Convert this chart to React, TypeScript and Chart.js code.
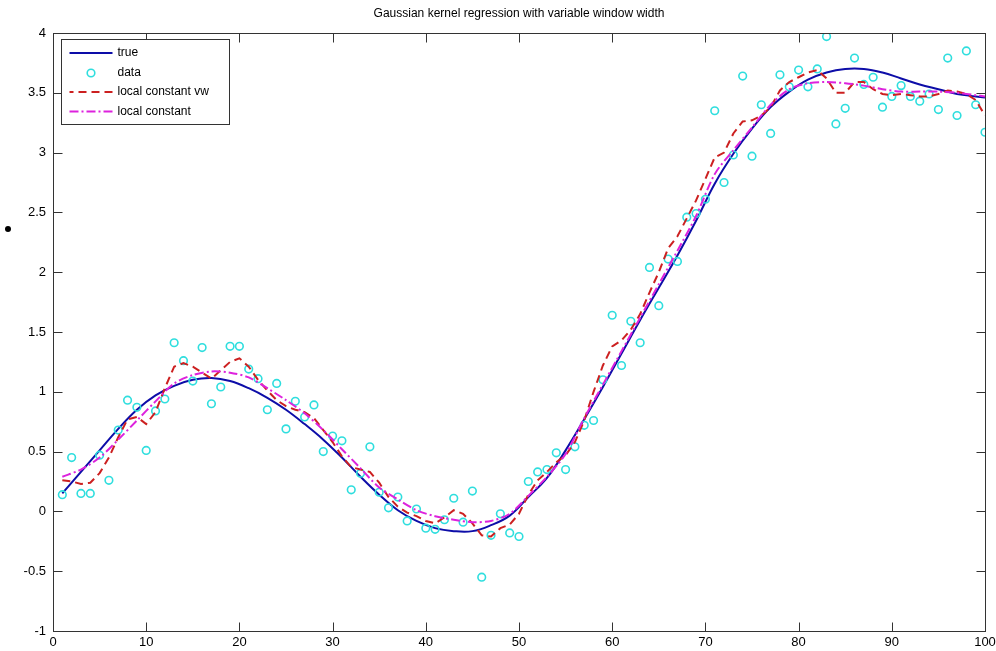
import React, { useEffect, useRef } from "react";
import { Chart, registerables } from "chart.js";

Chart.register(...registerables);

const titleText = "Gaussian kernel regression with variable window width";
const legendLabels = ["true", "data", "local constant vw", "local constant"];
const xTicks = [0, 10, 20, 30, 40, 50, 60, 70, 80, 90, 100];
const yTicks = [-1, -0.5, 0, 0.5, 1, 1.5, 2, 2.5, 3, 3.5, 4];

const dataX = [
  1, 2, 3, 4, 5, 6, 7, 8, 9, 10, 11, 12, 13, 14, 15, 16, 17, 18, 19, 20,
  21, 22, 23, 24, 25, 26, 27, 28, 29, 30, 31, 32, 33, 34, 35, 36, 37, 38, 39, 40,
  41, 42, 43, 44, 45, 46, 47, 48, 49, 50, 51, 52, 53, 54, 55, 56, 57, 58, 59, 60,
  61, 62, 63, 64, 65, 66, 67, 68, 69, 70, 71, 72, 73, 74, 75, 76, 77, 78, 79, 80,
  81, 82, 83, 84, 85, 86, 87, 88, 89, 90, 91, 92, 93, 94, 95, 96, 97, 98, 99, 100,
];
const dataY = [
  0.14, 0.45, 0.15, 0.15, 0.47, 0.26, 0.68, 0.93, 0.87, 0.51,
  0.84, 0.94, 1.41, 1.26, 1.09, 1.37, 0.9, 1.04, 1.38, 1.38,
  1.19, 1.11, 0.85, 1.07, 0.69, 0.92, 0.79, 0.89, 0.5, 0.63,
  0.59, 0.18, 0.32, 0.54, 0.16, 0.03, 0.12, -0.08, 0.02, -0.14,
  -0.15, -0.07, 0.11, -0.09, 0.17, -0.55, -0.2, -0.02, -0.18, -0.21,
  0.25, 0.33, 0.35, 0.49, 0.35, 0.54, 0.72, 0.76, 1.1, 1.64,
  1.22, 1.59, 1.41, 2.04, 1.72, 2.11, 2.09, 2.46, 2.49, 2.61,
  3.35, 2.75, 2.98, 3.64, 2.97, 3.4, 3.16, 3.65, 3.55, 3.69,
  3.55, 3.7, 3.97, 3.24, 3.37, 3.79, 3.57, 3.63, 3.38, 3.47,
  3.56, 3.47, 3.43, 3.49, 3.36, 3.79, 3.31, 3.85, 3.4, 3.17,
];

const smoothX = [
  1, 3, 5, 7, 9, 11, 13, 15, 17, 19, 21, 23, 25, 27, 29, 31, 33, 35, 37, 39,
  41, 43, 45, 47, 49, 51, 53, 55, 57, 59, 61, 63, 65, 67, 69, 71, 73, 75, 77, 79,
  81, 83, 85, 87, 89, 91, 93, 95, 97, 99, 100,
];
const trueY = [
  0.15, 0.33, 0.51, 0.69, 0.85, 0.97, 1.05, 1.1, 1.115, 1.09,
  1.03, 0.95, 0.85, 0.73, 0.6, 0.45, 0.29, 0.14, 0.01, -0.08,
  -0.14, -0.165, -0.165, -0.115, -0.035, 0.12, 0.28, 0.51, 0.77, 1.04,
  1.32, 1.6, 1.87, 2.14, 2.43, 2.74, 2.99, 3.2, 3.38, 3.51,
  3.61, 3.67, 3.7, 3.7, 3.67, 3.62, 3.57, 3.53, 3.49, 3.47, 3.46,
];
const localConstY = [
  0.29, 0.35, 0.45, 0.6, 0.76, 0.92, 1.07, 1.14, 1.17, 1.16,
  1.12, 1.03, 0.93, 0.82, 0.68, 0.52, 0.36, 0.2, 0.1, 0.01,
  -0.04, -0.07, -0.09, -0.08, -0.02, 0.13, 0.29, 0.48, 0.78, 1.06,
  1.34, 1.62, 1.9, 2.18, 2.47, 2.82, 3.02, 3.21, 3.4, 3.53,
  3.58, 3.59, 3.58, 3.56, 3.53, 3.51, 3.51, 3.51, 3.5, 3.48, 3.47,
];
const localConstVwY = [
  0.26, 0.25, 0.23, 0.24, 0.32, 0.45, 0.62, 0.77, 0.79, 0.73,
  0.83, 1.03, 1.21, 1.24, 1.21, 1.16, 1.11, 1.18, 1.25, 1.28,
  1.21, 1.1, 1.01, 0.93, 0.88, 0.85, 0.83, 0.78, 0.68, 0.58,
  0.46, 0.37, 0.35, 0.33, 0.24, 0.12, 0.04, -0.01, -0.04, -0.08,
  -0.1, -0.05, 0.01, -0.02, -0.1, -0.2, -0.21, -0.14, -0.11, -0.02,
  0.14, 0.26, 0.33, 0.41, 0.47, 0.58, 0.76, 1.0, 1.22, 1.38,
  1.43, 1.52, 1.65, 1.83, 2.0, 2.2, 2.3, 2.45, 2.6, 2.78,
  2.96, 3.0, 3.16, 3.26, 3.27, 3.31, 3.38, 3.52, 3.59, 3.63,
  3.67, 3.69, 3.62, 3.5, 3.5, 3.59, 3.59, 3.53, 3.49, 3.48,
  3.49, 3.48, 3.47, 3.47, 3.49, 3.52, 3.51, 3.49, 3.44, 3.31,
];

const COLORS = {
  true: "#0d0da8",
  data: "#2fdede",
  vw: "#cc2020",
  lc: "#dd22dd",
  axis: "#333333",
};
const DASH_VW = [8, 5];
const DASH_LC = [9, 3, 2, 3];
const FONT = "'Liberation Sans', Arial, sans-serif";

function pts(xs: number[], ys: number[]) {
  return xs.map((x, i) => ({ x, y: ys[i] }));
}

const matlabPlugin = {
  id: "matlabDecor",
  afterDraw(chart: any) {
    const { ctx, chartArea: a, scales } = chart;
    const xs = scales.x;
    const ys = scales.y;
    const L = Math.round(a.left) + 0.5;
    const R = Math.round(a.right) + 0.5;
    const T = Math.round(a.top) + 0.5;
    const B = Math.round(a.bottom) + 0.5;
    ctx.save();
    ctx.fillStyle = "#000";
    ctx.font = "12px " + FONT;
    ctx.textAlign = "center";
    ctx.textBaseline = "middle";
    ctx.fillText(titleText, (a.left + a.right) / 2, 14);
    ctx.strokeStyle = COLORS.axis;
    ctx.lineWidth = 1;
    ctx.setLineDash([]);
    ctx.strokeRect(L, T, R - L, B - T);
    const tl = 9;
    ctx.beginPath();
    xTicks.forEach((v) => {
      const px = Math.round(xs.getPixelForValue(v)) + 0.5;
      ctx.moveTo(px, B);
      ctx.lineTo(px, B - tl);
      ctx.moveTo(px, T);
      ctx.lineTo(px, T + tl);
    });
    yTicks.forEach((v) => {
      const py = Math.round(ys.getPixelForValue(v)) + 0.5;
      ctx.moveTo(L, py);
      ctx.lineTo(L + tl, py);
      ctx.moveTo(R, py);
      ctx.lineTo(R - tl, py);
    });
    ctx.stroke();
    const lx = Math.round(a.left) + 8.5;
    const ly = Math.round(a.top) + 6.5;
    const lw = 168;
    const lh = 85;
    ctx.fillStyle = "#fff";
    ctx.fillRect(lx, ly, lw, lh);
    ctx.strokeStyle = COLORS.axis;
    ctx.lineWidth = 1;
    ctx.strokeRect(lx, ly, lw, lh);
    const rowY = [ly + 13.5, ly + 33.5, ly + 52.5, ly + 72];
    const sx0 = lx + 8;
    const sx1 = lx + 51;
    const tx = lx + 56;
    ctx.lineWidth = 2;
    ctx.strokeStyle = COLORS.true;
    ctx.beginPath();
    ctx.moveTo(sx0, rowY[0]);
    ctx.lineTo(sx1, rowY[0]);
    ctx.stroke();
    ctx.lineWidth = 1.6;
    ctx.strokeStyle = COLORS.data;
    ctx.beginPath();
    ctx.arc((sx0 + sx1) / 2, rowY[1], 3.8, 0, Math.PI * 2);
    ctx.stroke();
    ctx.lineWidth = 2;
    ctx.strokeStyle = COLORS.vw;
    ctx.setLineDash(DASH_VW);
    ctx.beginPath();
    ctx.moveTo(sx1, rowY[2]);
    ctx.lineTo(sx0, rowY[2]);
    ctx.stroke();
    ctx.strokeStyle = COLORS.lc;
    ctx.setLineDash(DASH_LC);
    ctx.beginPath();
    ctx.moveTo(sx0, rowY[3]);
    ctx.lineTo(sx1, rowY[3]);
    ctx.stroke();
    ctx.setLineDash([]);
    ctx.fillStyle = "#000";
    ctx.font = "12px " + FONT;
    ctx.textAlign = "left";
    ctx.textBaseline = "middle";
    legendLabels.forEach((t, i) => ctx.fillText(t, tx, rowY[i]));
    ctx.restore();
  },
};

export default function App() {
  const ref = useRef<HTMLCanvasElement | null>(null);
  useEffect(() => {
    document.body.style.margin = "0";
    const canvas = ref.current;
    if (!canvas) return;
    const chart = new Chart(canvas, {
      type: "line",
      data: {
        datasets: [
          {
            label: legendLabels[0],
            data: pts(smoothX, trueY),
            borderColor: COLORS.true,
            borderWidth: 2,
            pointRadius: 0,
            tension: 0.4,
            fill: false,
            order: 4,
          },
          {
            label: legendLabels[1],
            data: pts(dataX, dataY),
            showLine: false,
            borderColor: COLORS.data,
            backgroundColor: "rgba(0,0,0,0)",
            pointBorderColor: COLORS.data,
            pointBackgroundColor: "rgba(0,0,0,0)",
            pointBorderWidth: 1.6,
            pointRadius: 3.8,
            pointStyle: "circle",
            order: 3,
          },
          {
            label: legendLabels[2],
            data: pts(dataX, localConstVwY),
            borderColor: COLORS.vw,
            borderWidth: 2,
            borderDash: DASH_VW,
            pointRadius: 0,
            tension: 0,
            fill: false,
            order: 2,
          },
          {
            label: legendLabels[3],
            data: pts(smoothX, localConstY),
            borderColor: COLORS.lc,
            borderWidth: 2,
            borderDash: DASH_LC,
            pointRadius: 0,
            tension: 0.3,
            fill: false,
            order: 1,
          },
        ],
      },
      options: {
        responsive: false,
        animation: false,
        layout: { padding: { top: 33, right: 11, left: 0, bottom: 0 } },
        plugins: {
          legend: { display: false },
          title: { display: false },
          tooltip: { enabled: false },
        },
        scales: {
          x: {
            type: "linear",
            min: 0,
            max: 100,
            afterBuildTicks: (s: any) => {
              s.ticks = xTicks.map((v) => ({ value: v }));
            },
            afterFit: (s: any) => {
              s.height = 20;
              s.paddingLeft = 0;
              s.paddingRight = 0;
            },
            grid: { display: false, drawTicks: false },
            border: { display: false },
            ticks: {
              padding: 4,
              autoSkip: false,
              maxRotation: 0,
              color: "#000",
              font: { family: FONT, size: 13 },
              callback: (v: any) => String(v),
            },
          },
          y: {
            type: "linear",
            min: -1,
            max: 4,
            afterBuildTicks: (s: any) => {
              s.ticks = yTicks.map((v) => ({ value: v }));
            },
            afterFit: (s: any) => {
              s.width = 53;
              s.paddingTop = 0;
              s.paddingBottom = 0;
            },
            grid: { display: false, drawTicks: false },
            border: { display: false },
            ticks: {
              padding: 7,
              autoSkip: false,
              color: "#000",
              font: { family: FONT, size: 13 },
              callback: (v: any) => String(v),
            },
          },
        },
      },
      plugins: [matlabPlugin],
    });
    return () => chart.destroy();
  }, []);
  return (
    <div style={{ position: "relative", width: 996, height: 651, background: "#fff" }}>
      <canvas ref={ref} width={996} height={651} style={{ display: "block" }} />
      <div
        style={{
          position: "absolute",
          left: 5,
          top: 226,
          width: 6,
          height: 6,
          borderRadius: 3,
          background: "#000",
        }}
      />
    </div>
  );
}
